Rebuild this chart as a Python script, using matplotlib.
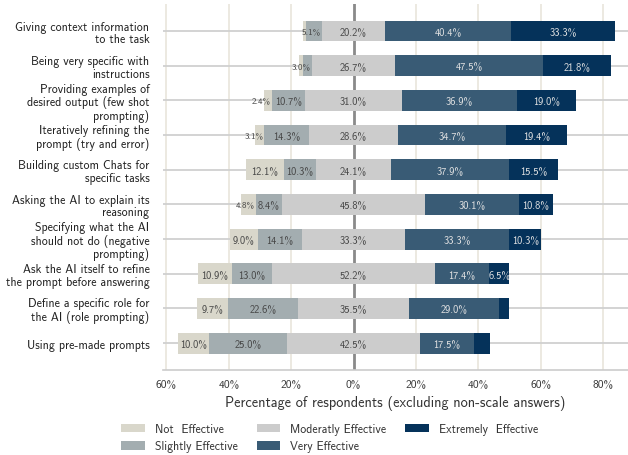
import numpy as np
import matplotlib
matplotlib.use("Agg")
import matplotlib.pyplot as plt
from matplotlib.patches import Patch

plt.rcParams['font.family'] = ['cmss10', 'DejaVu Sans']
plt.rcParams['axes.unicode_minus'] = False
plt.rcParams['mathtext.fontset'] = 'cm'

questions = [
    "Giving context information\nto the task",
    "Being very specific with\ninstructions",
    "Providing examples of\ndesired output (few shot\nprompting)",
    "Iteratively refining the\nprompt (try and error)",
    "Building custom Chats for\nspecific tasks",
    "Asking the AI to explain its\nreasoning",
    "Specifying what the AI\nshould not do (negative\nprompting)",
    "Ask the AI itself to refine\nthe prompt before answering",
    "Define a specific role for\nthe AI (role prompting)",
    "Using pre-made prompts",
]
levels = ["Not  Effective", "Slightly Effective", "Moderatly Effective",
          "Very Effective", "Extremely  Effective"]
not_eff = [1.0, 1.0, 2.4, 3.1, 12.1, 4.8, 9.0, 10.9, 9.7, 10.0]
slightly = [5.1, 3.0, 10.7, 14.3, 10.3, 8.4, 14.1, 13.0, 22.6, 25.0]
moderate = [20.2, 26.7, 31.0, 28.6, 24.1, 45.8, 33.3, 52.2, 35.5, 42.5]
very = [40.4, 47.5, 36.9, 34.7, 37.9, 30.1, 33.3, 17.4, 29.0, 17.5]
extremely = [33.3, 21.8, 19.0, 19.4, 15.5, 10.8, 10.3, 6.5, 3.2, 5.0]
xticks = [-60, -40, -20, 0, 20, 40, 60, 80]

colors = ["#d9d7cb", "#a3adb0", "#cccccc", "#395b75", "#05325a"]
txt_colors = ["#444444", "#444444", "#444444", "#e4e4e4", "#e4e4e4"]

data = np.array([not_eff, slightly, moderate, very, extremely])
y = np.arange(len(questions))

fig = plt.figure(figsize=(6.28, 4.56), dpi=100)
ax = fig.add_axes([0.26, 0.186, 0.74, 0.803])

# horizontal guide lines at each row
for yi in y:
    ax.axhline(yi, color="#d0d0d0", lw=1.3, zorder=1)
for xv in xticks:
    if xv != 0:
        ax.axvline(xv, color="#ebe7de", lw=1.3, zorder=0)
ax.axvline(0, color="#8a8a8a", lw=2, zorder=1.5)

h = 0.6
left = -(data[0] + data[1] + data[2] / 2)
for k in range(5):
    vals = data[k]
    ax.barh(y, vals, left=left, height=h, color=colors[k], zorder=2, label=levels[k])
    for i in range(len(y)):
        v = vals[i]
        if v < 2 or (k >= 3 and v < 6):
            continue
        elif v < 6:
            ax.text(left[i] + v - 0.3, y[i], f"{v:.1f}%", ha="right", va="center",
                    fontsize=6.5, color=txt_colors[k], zorder=3)
        else:
            ax.text(left[i] + v / 2, y[i], f"{v:.1f}%", ha="center", va="center",
                    fontsize=7.5, color=txt_colors[k], zorder=3)
    left = left + vals

ax.set_xlim(-61, 88)
ax.set_ylim(9.78, -0.78)
ax.set_yticks(y)
ax.set_yticklabels(questions, fontsize=8.6, linespacing=1.05, color="#222222")
ax.set_xticks(xticks)
ax.set_xticklabels([f"{abs(v)}%" for v in xticks], fontsize=8.3, color="#333333")
ax.tick_params(axis="y", length=0, pad=10)
ax.tick_params(axis="x", length=0, pad=6)
for s in ["top", "right", "left"]:
    ax.spines[s].set_visible(False)
ax.spines["bottom"].set_color("#cccccc")
ax.spines["bottom"].set_linewidth(1.2)
ax.set_xlabel("Percentage of respondents (excluding non-scale answers)",
              fontsize=10.3, color="#333333", labelpad=5)

handles = [Patch(facecolor=c, edgecolor="none") for c in colors]
fig.legend(handles, levels, loc="upper left", bbox_to_anchor=(0.193, 0.07),
           ncol=3, frameon=False, fontsize=8.5, handlelength=2.0, handleheight=0.75,
           handletextpad=0.85, columnspacing=1.6, labelspacing=0.45, borderaxespad=0,
           borderpad=0, labelcolor="#333333")

fig.savefig("out.png", dpi=100)
